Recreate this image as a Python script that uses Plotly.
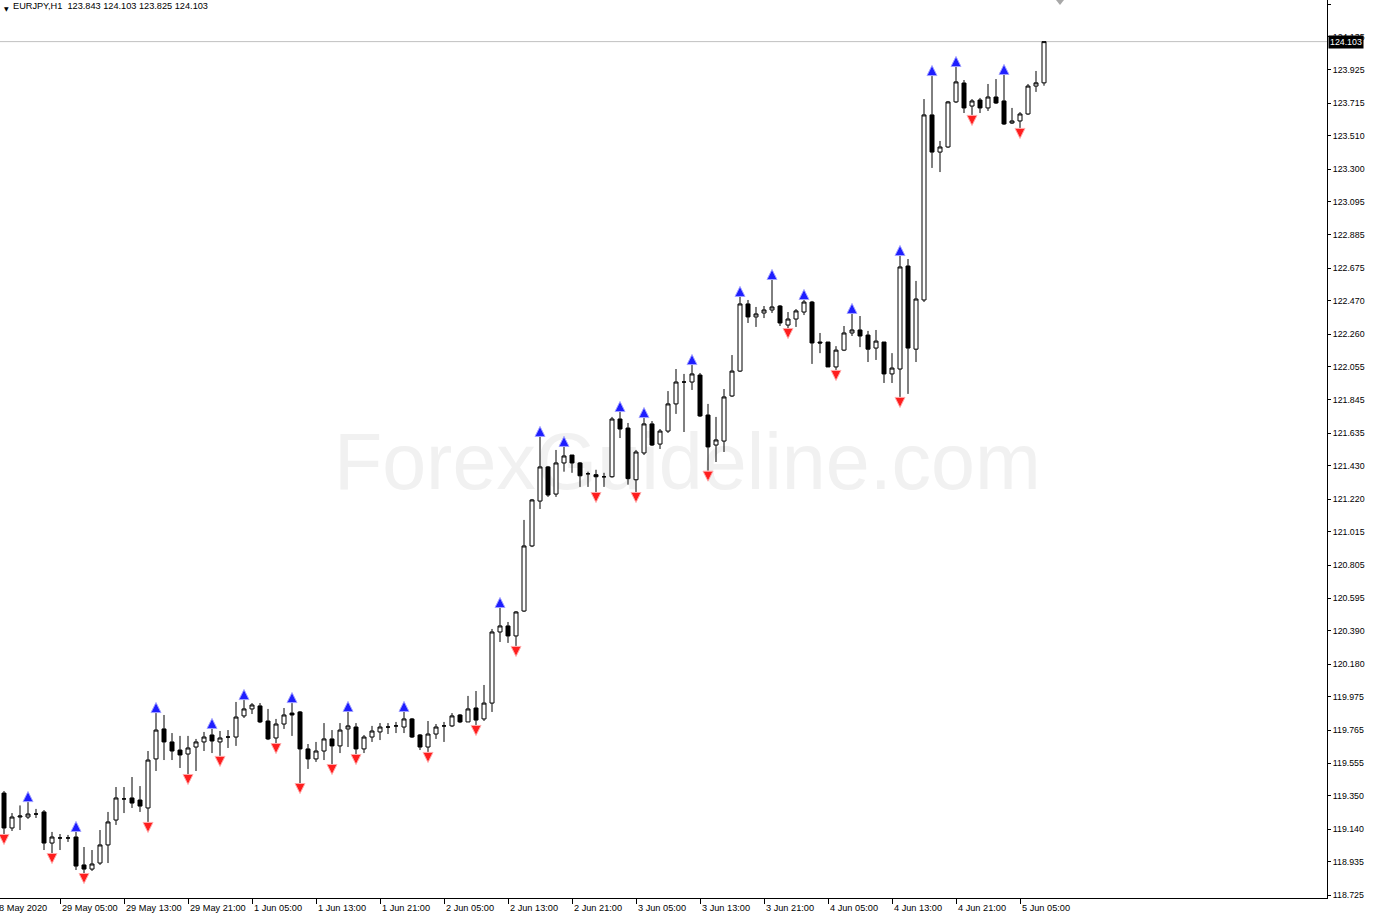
import plotly.graph_objects as go

# ---- data (EURJPY H1) ----
opens = [119.368, 119.148, 119.217, 119.217, 119.236, 119.249, 119.053, 119.085, 119.085, 119.091,
         118.915, 118.889, 118.927, 119.041, 119.198, 119.331, 119.337, 119.324, 119.274, 119.583,
         119.772, 119.690, 119.639, 119.614, 119.658, 119.690, 119.734, 119.690, 119.721, 119.721,
         119.854, 119.898, 119.917, 119.822, 119.715, 119.803, 119.872, 119.879, 119.646, 119.583,
         119.633, 119.709, 119.665, 119.772, 119.784, 119.646, 119.721, 119.753, 119.784, 119.791,
         119.784, 119.835, 119.734, 119.658, 119.740, 119.791, 119.791, 119.860, 119.816, 119.904,
         119.835, 119.935, 120.383, 120.421, 120.358, 120.515, 120.925, 121.208, 121.423, 121.252,
         121.448, 121.498, 121.448, 121.380, 121.374, 121.361, 121.361, 121.725, 121.668, 121.342,
         121.511, 121.694, 121.567, 121.649, 121.820, 121.958, 121.958, 122.002, 121.750, 121.561,
         121.586, 121.870, 122.027, 122.450, 122.368, 122.393, 122.412, 122.437, 122.317, 122.355,
         122.399, 122.462, 122.210, 122.210, 122.053, 122.159, 122.267, 122.286, 122.254, 122.172,
         122.210, 122.009, 122.040, 122.689, 122.165, 122.475, 123.641, 123.407, 123.439, 123.723,
         123.842, 123.697, 123.735, 123.685, 123.754, 123.729, 123.590, 123.603, 123.647, 123.823,
         123.843]
highs = [119.381, 119.242, 119.290, 119.311, 119.268, 119.261, 119.123, 119.110, 119.104, 119.123,
         119.028, 119.009, 119.135, 119.249, 119.406, 119.406, 119.469, 119.412, 119.633, 119.872,
         119.860, 119.746, 119.728, 119.728, 119.709, 119.753, 119.772, 119.759, 119.765, 119.942,
         119.954, 119.935, 119.935, 119.898, 119.835, 119.904, 119.935, 119.885, 119.677, 119.690,
         119.809, 119.765, 119.809, 119.879, 119.809, 119.734, 119.791, 119.809, 119.809, 119.816,
         119.879, 119.841, 119.740, 119.822, 119.803, 119.816, 119.872, 119.866, 119.980, 120.011,
         120.049, 120.402, 120.534, 120.446, 120.515, 121.089, 121.221, 121.612, 121.429, 121.530,
         121.549, 121.498, 121.454, 121.393, 121.405, 121.386, 121.738, 121.769, 121.700, 121.530,
         121.731, 121.712, 121.662, 121.901, 122.040, 122.009, 122.065, 122.015, 121.820, 121.738,
         121.914, 122.128, 122.494, 122.475, 122.431, 122.437, 122.601, 122.443, 122.399, 122.418,
         122.475, 122.469, 122.267, 122.210, 122.184, 122.311, 122.387, 122.374, 122.280, 122.286,
         122.210, 122.140, 122.752, 122.733, 122.595, 123.741, 123.886, 123.477, 123.729, 123.943,
         123.861, 123.741, 123.748, 123.836, 123.867, 123.893, 123.685, 123.659, 123.836, 123.918,
         124.103]
lows = [119.110, 119.129, 119.135, 119.205, 119.211, 119.009, 118.990, 119.009, 119.060, 118.883,
        118.864, 118.877, 118.915, 118.927, 119.167, 119.242, 119.274, 119.249, 119.186, 119.507,
        119.576, 119.576, 119.526, 119.488, 119.507, 119.633, 119.620, 119.602, 119.652, 119.665,
        119.841, 119.866, 119.809, 119.702, 119.683, 119.772, 119.728, 119.431, 119.520, 119.564,
        119.576, 119.551, 119.620, 119.658, 119.614, 119.620, 119.690, 119.702, 119.740, 119.746,
        119.746, 119.715, 119.639, 119.627, 119.709, 119.690, 119.784, 119.809, 119.816, 119.797,
        119.822, 119.879, 120.320, 120.314, 120.295, 120.509, 120.918, 121.158, 121.234, 121.234,
        121.393, 121.386, 121.297, 121.297, 121.265, 121.297, 121.355, 121.605, 121.311, 121.265,
        121.498, 121.555, 121.536, 121.637, 121.757, 121.643, 121.908, 121.738, 121.399, 121.454,
        121.517, 121.864, 122.021, 122.330, 122.305, 122.361, 122.393, 122.311, 122.298, 122.305,
        122.380, 122.072, 122.140, 122.053, 122.034, 122.153, 122.248, 122.178, 122.084, 122.097,
        121.952, 121.952, 121.864, 121.883, 122.084, 122.462, 123.307, 123.281, 123.433, 123.716,
        123.653, 123.641, 123.653, 123.666, 123.710, 123.578, 123.584, 123.559, 123.641, 123.786,
        123.825]
closes = [119.148, 119.217, 119.223, 119.236, 119.236, 119.053, 119.091, 119.085, 119.085, 118.908,
          118.889, 118.921, 119.041, 119.186, 119.337, 119.331, 119.305, 119.286, 119.576, 119.765,
          119.690, 119.633, 119.608, 119.652, 119.690, 119.721, 119.696, 119.715, 119.721, 119.847,
          119.898, 119.923, 119.816, 119.709, 119.803, 119.860, 119.860, 119.646, 119.583, 119.633,
          119.709, 119.665, 119.765, 119.791, 119.646, 119.721, 119.759, 119.784, 119.784, 119.791,
          119.835, 119.721, 119.658, 119.740, 119.784, 119.791, 119.854, 119.816, 119.898, 119.828,
          119.935, 120.383, 120.421, 120.358, 120.509, 120.925, 121.215, 121.423, 121.246, 121.448,
          121.492, 121.448, 121.367, 121.380, 121.361, 121.361, 121.725, 121.662, 121.349, 121.517,
          121.694, 121.561, 121.649, 121.820, 121.958, 121.958, 122.009, 121.744, 121.549, 121.593,
          121.864, 122.027, 122.450, 122.368, 122.387, 122.412, 122.431, 122.330, 122.355, 122.406,
          122.462, 122.204, 122.204, 122.053, 122.159, 122.267, 122.286, 122.248, 122.165, 122.216,
          122.009, 122.046, 122.683, 122.172, 122.481, 123.641, 123.407, 123.439, 123.723, 123.849,
          123.685, 123.729, 123.685, 123.754, 123.716, 123.584, 123.603, 123.647, 123.823, 123.843,
          124.103]

# bar indices carrying fractal marks
up_fractals = [3, 9, 19, 26, 30, 36, 43, 50, 62, 67, 70, 77, 80, 86, 92, 96, 100, 106, 112, 116, 119, 125]
down_fractals = [0, 6, 10, 18, 23, 27, 34, 37, 41, 44, 53, 59, 64, 74, 79, 88, 98, 104, 112, 121, 127]

time_labels = ["28 May 2020", "29 May 05:00", "29 May 13:00", "29 May 21:00", "1 Jun 05:00",
               "1 Jun 13:00", "1 Jun 21:00", "2 Jun 05:00", "2 Jun 13:00", "2 Jun 21:00",
               "3 Jun 05:00", "3 Jun 13:00", "3 Jun 21:00", "4 Jun 05:00", "4 Jun 13:00",
               "4 Jun 21:00", "5 Jun 05:00"]
price_ticks = [124.340, 124.135, 123.925, 123.715, 123.510, 123.300, 123.095, 122.885, 122.675,
               122.470, 122.260, 122.055, 121.845, 121.635, 121.430, 121.220, 121.015, 120.805,
               120.595, 120.390, 120.180, 119.975, 119.765, 119.555, 119.350, 119.140, 118.935,
               118.725]
symbol = "EURJPY,H1"

# ---- figure ----
FONT = "Liberation Sans, Arial, sans-serif"
n = len(opens)
xs = list(range(n))
arrow_gap = 0.066  # price distance from extreme to arrow tip
label_pos = list(range(-1, n, 8))

fig = go.Figure()
fig.add_trace(go.Candlestick(
    x=xs, open=opens, high=highs, low=lows, close=closes,
    increasing=dict(line=dict(color="black", width=1), fillcolor="white"),
    decreasing=dict(line=dict(color="black", width=1), fillcolor="black"),
    whiskerwidth=0, hoverinfo="skip", showlegend=False))

fig.add_trace(go.Scatter(
    x=up_fractals, y=[highs[i] + arrow_gap for i in up_fractals], mode="markers",
    marker=dict(symbol="arrow-up", size=10, color="rgb(30,30,255)",
                line=dict(color="rgb(160,160,255)", width=1)),
    hoverinfo="skip", showlegend=False))
fig.add_trace(go.Scatter(
    x=down_fractals, y=[lows[i] - arrow_gap for i in down_fractals], mode="markers",
    marker=dict(symbol="arrow-down", size=10, color="rgb(255,30,30)",
                line=dict(color="rgb(255,170,170)", width=1)),
    hoverinfo="skip", showlegend=False))

last_close = closes[-1]
header = "%s\u00a0\u00a0%.3f %.3f %.3f %.3f" % (symbol, opens[-1], highs[-1], lows[-1], closes[-1])

annotations = [
    dict(xref="paper", yref="paper", x=0.0012, y=1, yshift=-3, xanchor="left", yanchor="top",
         text="\u25bc", showarrow=False, font=dict(family="DejaVu Sans", size=6, color="black")),
    dict(xref="paper", yref="paper", x=0.0085, y=1, yshift=1, xanchor="left", yanchor="top",
         text=header, showarrow=False, font=dict(family=FONT, size=9.2, color="black")),
    dict(xref="paper", yref="y", x=1, y=last_close, xanchor="left", yanchor="middle", xshift=1,
         text="%.3f" % last_close, showarrow=False, bgcolor="black", borderpad=1,
         font=dict(family=FONT, size=8.8, color="white")),
]
# time labels, left-aligned at their tick like the terminal draws them
for j, (pos, lab) in enumerate(zip(label_pos, time_labels)):
    annotations.append(dict(
        xref="paper", yref="paper", x=(pos + 0.5) / 165.875, y=0, yshift=-3,
        xshift=-4 if j == 0 else 0,
        xanchor="left", yanchor="top", text=lab, showarrow=False,
        font=dict(family=FONT, size=9.2, color="black")))

fig.update_layout(
    width=1376, height=918,
    margin=dict(l=0, r=49, t=0, b=20, autoexpand=False),
    paper_bgcolor="white", plot_bgcolor="white",
    boxgap=0.5, boxgroupgap=0,
    showlegend=False,
    xaxis=dict(range=[-0.5, 165.375], rangeslider=dict(visible=False), automargin=False,
               tickvals=label_pos, ticktext=[""] * len(label_pos),
               ticks="outside", ticklen=5, tickcolor="black",
               showline=True, linecolor="black", linewidth=1,
               showgrid=False, zeroline=False),
    yaxis=dict(range=[118.7067, 124.3652], side="right", automargin=False,
               tickvals=price_ticks, ticktext=["%.3f" % v for v in price_ticks],
               ticks="outside", ticklen=3, tickcolor="black",
               tickfont=dict(family=FONT, size=8.8, color="black"),
               showline=True, linecolor="black", linewidth=1,
               showgrid=False, zeroline=False),
    shapes=[
        dict(type="rect", xref="paper", yref="paper", x0=0.2205, x1=0.8155, y0=0.4438, y1=0.5438,
             line=dict(width=0), fillcolor="rgba(0,0,0,0)", layer="below",
             label=dict(text="ForexGuideline.com", textposition="middle center",
                        font=dict(family="Liberation Sans, Arial", size=79, color="#f1f1f1"))),
        dict(type="line", xref="paper", yref="y", x0=0, x1=1, y0=last_close, y1=last_close,
             line=dict(color="#c0c0c0", width=1), layer="below"),
        dict(type="path", xref="paper", yref="paper",
             path="M 0.7958,1 L 0.8018,1 L 0.7988,0.9944 Z",
             fillcolor="#a8a8a8", line=dict(width=0)),
    ],
    annotations=annotations,
)

fig.write_html("out.html", config={"displayModeBar": False},
               post_script="document.body.style.margin='0px';document.body.style.overflow='hidden';")
